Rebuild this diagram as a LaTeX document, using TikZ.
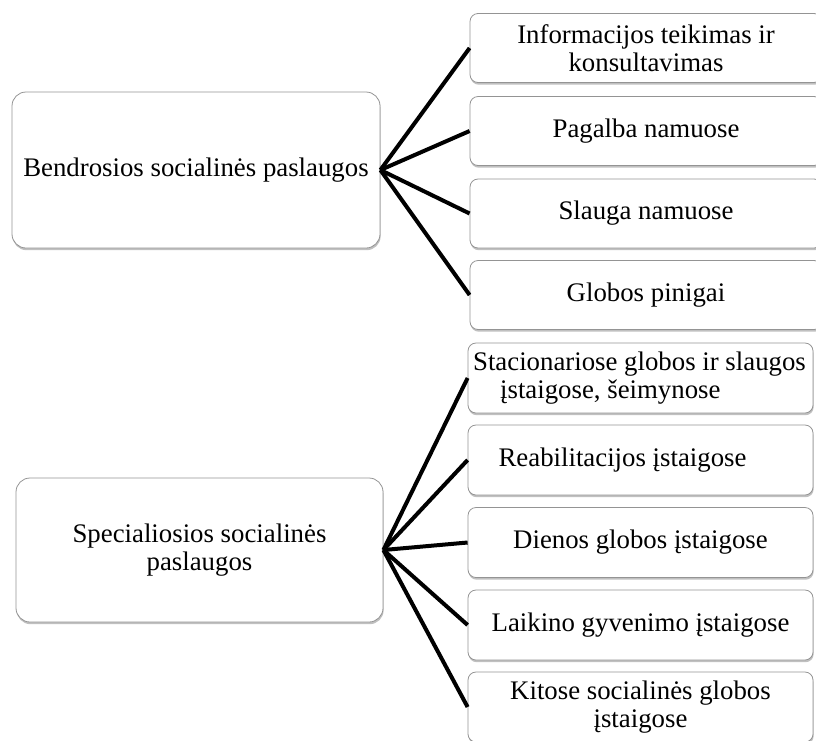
\documentclass[tikz,border=0pt]{standalone}
\usepackage{fontspec}
\setmainfont{Liberation Serif}
\usetikzlibrary{shadows}
\begin{document}
\begin{tikzpicture}[x=1pt,y=-1pt,
  txt/.style={font=\fontsize{26.8}{27.5}\selectfont},
  box/.style={txt, draw=black!42, line width=0.8pt, fill=white, rounded corners=8pt,
    drop shadow={shadow xshift=0.6pt, shadow yshift=-2.2pt, opacity=0.35, fill=black!70},
    align=center, inner sep=0pt},
  bigbox/.style={box, rounded corners=14pt},
  topbox/.style={box, minimum width=352pt, minimum height=69pt},
  botbox/.style={box, minimum width=345pt, minimum height=70pt},
  link/.style={line width=4pt, black}]
\useasboundingbox (0,0) rectangle (816,740);
\clip (0,0) rectangle (816,740);
\fill[white] (0,0) rectangle (816,740);

\node[bigbox, minimum width=368pt, minimum height=156pt] (B) at (196,170) {Bendrosios socialinės paslaugos};
\node[bigbox, minimum width=367pt, minimum height=144pt] (S) at (199.5,550) {Specialiosios socialinės\\paslaugos};

\node[topbox] (t1) at (646,48) {Informacijos teikimas ir\\konsultavimas};
\node[topbox] (t2) at (646,131) {Pagalba namuose};
\node[topbox] (t3) at (646,213.5) {Slauga namuose};
\node[topbox] (t4) at (646,295) {Globos pinigai};

\node[botbox] (s1) at (640.5,378) {};
\node[txt, align=left, inner sep=0pt] (s1t) at ([xshift=-1pt]s1.center) {Stacionariose globos ir slaugos\\\hspace*{27pt}įstaigose, šeimynose};
\node[botbox] (s2) at (640.5,460) {};
\node[txt, inner sep=0pt] (s2t) at ([xshift=-18pt]s2.center) {Reabilitacijos įstaigose};
\node[botbox] (s3) at (640.5,542.5) {Dienos globos įstaigose};
\node[botbox] (s4) at (640.5,625) {Laikino gyvenimo įstaigose};
\node[botbox] (s5) at (640.5,707) {Kitose socialinės globos\\įstaigose};

\foreach \n in {t1,t2,t3,t4} \draw[link] (B.east) -- (\n.west);
\foreach \n in {s1,s2,s3,s4,s5} \draw[link] (S.east) -- (\n.west);
\end{tikzpicture}
\end{document}
